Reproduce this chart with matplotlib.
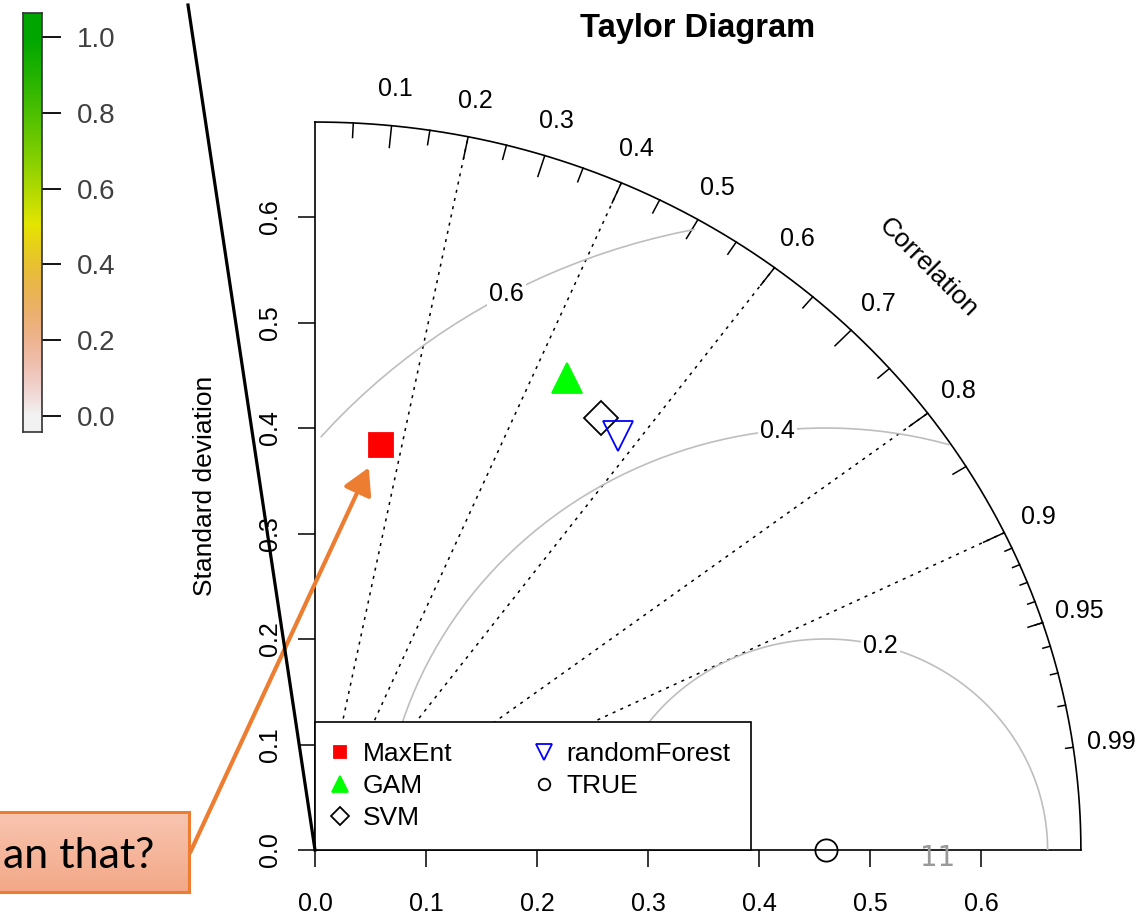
import numpy as np
import matplotlib
matplotlib.use("Agg")
import matplotlib.pyplot as plt
from matplotlib.colors import hsv_to_rgb, LinearSegmentedColormap
from matplotlib.patches import FancyArrowPatch
from matplotlib.lines import Line2D

plt.rcParams['font.family'] = ['Liberation Sans', 'DejaVu Sans']

# -----------------------------
# DATA
# -----------------------------
models = ["MaxEnt", "GAM", "SVM", "randomForest"]
model_sd = [0.388, 0.502, 0.484, 0.478]
model_cor = [0.153, 0.452, 0.532, 0.572]
model_marker = ["s", "^", "D", "v"]
model_face = ["red", "#00ff00", "none", "none"]
model_edge = ["red", "#00ff00", "black", "blue"]
model_ms = [17, 21, 17, 21]

ref_name = "TRUE"
ref_sd = 0.46

corr_lines = [0.2, 0.4, 0.6, 0.8, 0.9]
corr_labels = [0.1, 0.2, 0.3, 0.4, 0.5, 0.6, 0.7, 0.8, 0.9, 0.95, 0.99]
big_ticks = [0.1, 0.2, 0.3, 0.4, 0.5, 0.6, 0.7, 0.8, 0.9]
med_ticks = [0.05, 0.15, 0.25, 0.35, 0.45, 0.55, 0.65, 0.75, 0.85, 0.95]
sml_ticks = [0.91, 0.92, 0.93, 0.94, 0.95, 0.96, 0.97, 0.98, 0.99]
gamma_levels = [0.2, 0.4, 0.6]
sd_ticks = [0.0, 0.1, 0.2, 0.3, 0.4, 0.5, 0.6]
cbar_ticks = [0.0, 0.2, 0.4, 0.6, 0.8, 1.0]

W, H = 1142, 916

# -----------------------------
# FIGURE / TAYLOR AXES
# -----------------------------
fig = plt.figure(figsize=(W / 100, H / 100), dpi=100)
maxray = 1.5 * max(model_sd[0], ref_sd)

ax = fig.add_axes([315 / W, 66 / H, maxray * 1110 / W, maxray * 1055 / H])
ax.set_xlim(0, maxray)
ax.set_ylim(0, maxray)
for s in ax.spines.values():
    s.set_visible(False)

# frame: outer arc and the two axes
th = np.linspace(0, np.pi / 2, 300)
ax.plot(maxray * np.cos(th), maxray * np.sin(th), color="k", lw=1.2, clip_on=False)
ax.plot([0, maxray], [0, 0], color="k", lw=1.2, clip_on=False)
ax.plot([0, 0], [0, maxray], color="k", lw=1.2, clip_on=False)

# correlation rays
for c in corr_lines:
    a = np.arccos(c)
    ax.plot([0, maxray * np.cos(a)], [0, maxray * np.sin(a)], color="k",
            lw=1.1, ls=(0, (2, 3.5)))

# ticks on the arc
for vals, frac in ((big_ticks, 0.97), (med_ticks, 0.98), (sml_ticks, 0.99)):
    for c in vals:
        a = np.arccos(c)
        ax.plot([maxray * np.cos(a), frac * maxray * np.cos(a)],
                [maxray * np.sin(a), frac * maxray * np.sin(a)],
                color="k", lw=1.1, clip_on=False)

for c in corr_labels:
    a = np.arccos(c)
    ax.text(1.05 * maxray * np.cos(a), 1.05 * maxray * np.sin(a), f"{c:g}",
            ha="center", va="center", fontsize=18, clip_on=False)
ax.text(0.8 * maxray, 0.8 * maxray, "Correlation", rotation=-45,
        ha="center", va="center", fontsize=19)

# centred RMS contours around the reference
ang = np.arange(0, np.pi, 0.03)
labelpos = np.linspace(45, 70, len(gamma_levels)).astype(int) - 1
for g, lp in zip(gamma_levels, labelpos):
    xc = np.cos(ang) * g + ref_sd
    yc = np.sin(ang) * g
    inside = (xc >= 0) & (xc ** 2 + yc ** 2 <= maxray ** 2)
    ax.plot(xc[inside], yc[inside], color="#bebebe", lw=1.2)
    ax.text(xc[lp], yc[lp], f"{g:g}", ha="center", va="center", fontsize=18,
            bbox=dict(fc="white", ec="none", pad=1.5), zorder=3)

# model points
for name, sd, r, mk, fc, ec, ms in zip(models, model_sd, model_cor, model_marker,
                                       model_face, model_edge, model_ms):
    ax.plot(sd * r, sd * np.sqrt(1 - r ** 2), linestyle="none", marker=mk, ms=ms,
            mfc=fc, mec=ec, mew=1.3, label=name, zorder=4)
ax.plot(ref_sd, 0, linestyle="none", marker="o", ms=16, mfc="none", mec="k",
        mew=1.3, label=ref_name, clip_on=False, zorder=4)

# axes ticks
ax.set_xticks(sd_ticks)
ax.set_xticklabels([f"{v:.1f}" for v in sd_ticks])
ax.set_yticks(sd_ticks)
ax.set_yticklabels([f"{v:.1f}" for v in sd_ticks], rotation=90, va="center")
ax.tick_params(axis="both", direction="out", length=12, width=1.1, labelsize=18)
ax.tick_params(axis="x", pad=18)
ax.tick_params(axis="y", pad=12)

leg = ax.legend(ncol=2, loc="lower left", bbox_to_anchor=(0, 0), borderaxespad=0,
                fontsize=19, markerscale=0.52, handlelength=0.4, handletextpad=0.67,
                columnspacing=3.25, borderpad=0.75, labelspacing=0.31,
                fancybox=False, framealpha=1, edgecolor="k")
leg.get_frame().set_linewidth(1.2)
leg.set_zorder(5)

fig.text(698 / W, 1 - 28 / H, "Taylor Diagram", ha="center", va="center",
         fontsize=23.5, fontweight="bold")
fig.text(205 / W, 1 - 486 / H, "Standard deviation", rotation=90,
         ha="center", va="center", fontsize=19)

# -----------------------------
# COLOUR BAR (terrain colours, reversed)
# -----------------------------
n = 100
k = n // 2
hh = np.r_[np.linspace(4 / 12, 2 / 12, k), np.linspace(2 / 12, 0, n - k + 1)[1:]]
ss = np.r_[np.ones(k), np.linspace(1, 0, n - k + 1)[1:]]
vv = np.r_[np.linspace(0.65, 0.9, k), np.linspace(0.9, 0.95, n - k + 1)[1:]]
terrain = hsv_to_rgb(np.column_stack([hh, ss, vv]))[::-1]
cmap = LinearSegmentedColormap.from_list("terrain_r", terrain)

cax = fig.add_axes([23 / W, 1 - 432 / H, 19 / W, 419 / H])
lo, hi = -0.042, 1.063
grad = np.linspace(lo, hi, 400).reshape(-1, 1)
cax.imshow(grad, cmap=cmap, vmin=0, vmax=1, origin="lower",
           extent=(0, 1, lo, hi), aspect="auto")
cax.set_xticks([])
cax.yaxis.tick_right()
cax.set_yticks(cbar_ticks)
cax.set_yticklabels([f"{v:.1f}" for v in cbar_ticks])
cax.tick_params(axis="y", length=14, width=1.3, labelsize=20, pad=11,
                labelcolor="#404040")
for s in cax.spines.values():
    s.set_linewidth(1.2)
    s.set_color("#333333")

# -----------------------------
# OVERLAYS (slide annotations)
# -----------------------------
fig.add_artist(Line2D([188 / W, 315 / W], [1 - 5 / H, 1 - 850 / H],
                      color="k", lw=2.3))

bax = fig.add_axes([-0.01, 1 - 892 / H, 189 / W + 0.01, 80 / H])
bgrad = np.linspace(0, 1, 50).reshape(-1, 1)
box_cmap = LinearSegmentedColormap.from_list("box", ["#f3a888", "#f8c5b0"])
bax.imshow(bgrad, cmap=box_cmap, origin="lower", aspect="auto", extent=(0, 1, 0, 1))
bax.set_xticks([])
bax.set_yticks([])
for s in bax.spines.values():
    s.set_color("#ed7d31")
    s.set_linewidth(2.2)
fig.text(3 / W, 1 - 868 / H, "an that?", ha="left", va="baseline",
         fontsize=31, family=["Lato", "DejaVu Sans"], color="black")

arrow = FancyArrowPatch((189 / W, 1 - 855 / H), (370 / W, 1 - 465 / H),
                        transform=fig.transFigure, arrowstyle="-|>,head_length=0.8,head_width=0.45",
                        mutation_scale=20, color="#ed7d31", lw=3)
fig.add_artist(arrow)

fig.text(938 / W, 1 - 858 / H, "11", ha="center", va="center", fontsize=20,
         color="#999999", family="DejaVu Sans")

fig.savefig("out.png", dpi=100)
